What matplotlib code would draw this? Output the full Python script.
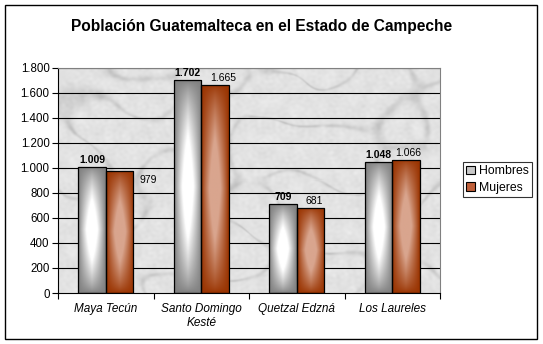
import numpy as np
import matplotlib
matplotlib.use("Agg")
import matplotlib.pyplot as plt
from matplotlib.patches import Rectangle, Patch
from matplotlib.ticker import FuncFormatter, FixedLocator

plt.rcParams['font.family'] = ['Liberation Sans', 'DejaVu Sans']

# data
categories = ["Maya Tecún", "Santo Domingo\nKesté", "Quetzal Edzná", "Los Laureles"]
hombres = [1009, 1702, 709, 1048]
mujeres = [979, 1665, 681, 1066]
series_names = ["Hombres", "Mujeres"]

# label offsets in pixels (Mujeres labels sit a little to the right in the original)
mujeres_label_offsets = [(29, -14), (8, 2), (4, 2), (2, 2)]


def thousands(v, pos=None):
    return f"{v:,.0f}".replace(",", ".")


def gradient_colors(edge, center, nx=40, ny=120):
    # "from center" shading: edge colour at the sides, light colour in the middle
    u = np.linspace(-1, 1, nx)
    v = np.linspace(-1, 1, ny)
    U, V = np.meshgrid(u, v)
    t = (1 - np.abs(U)) ** 0.9 * (1 - np.abs(V)) ** 0.7
    t = np.clip(t * 1.6, 0, 1)
    edge = np.array(matplotlib.colors.to_rgb(edge))
    center = np.array(matplotlib.colors.to_rgb(center))
    return edge + (center - edge) * t[..., None]


def wave_sum(X, Y, n, fmin, fmax, seed_phase):
    # fixed sum of sine waves in many directions (deterministic texture)
    w = np.zeros(X.shape)
    for k in range(1, n + 1):
        ang = k * 2.39996 + seed_phase
        f = fmin + (fmax - fmin) * ((k * 0.618034) % 1)
        w += np.sin(f * (np.cos(ang) * X + np.sin(ang) * Y) + k * 1.7 + seed_phase)
    return w / np.abs(w).max()


def marble(nx=382, ny=225):
    # light grey marble-like background
    X, Y = np.meshgrid(np.arange(nx), np.arange(ny))
    warp = 6 * wave_sum(X, Y, 12, 0.05, 0.15, 0.3)
    low = wave_sum(X + warp, Y - warp, 25, 0.03, 0.09, 1.1)
    veins = np.exp(-(low ** 2) / 0.004)
    mid = wave_sum(X, Y, 30, 0.15, 0.45, 2.3)
    fine = wave_sum(X, Y, 40, 0.6, 1.4, 0.7)
    g = 0.89 - 0.13 * veins * (0.6 + 0.4 * mid) - 0.03 * mid - 0.025 * fine
    g = np.clip(g, 0, 1)
    return np.dstack([g, g, g])


fig = plt.figure(figsize=(5.43, 3.44), dpi=100)
fig.patch.set_facecolor("white")
ax = fig.add_axes([58 / 543, 1 - 293 / 344, 382 / 543, 225 / 344])

# outer chart frame
fig.patches.append(Rectangle((5 / 543, 1 - 339 / 344), 532 / 543, 334 / 344,
                             transform=fig.transFigure, fill=False,
                             edgecolor="black", linewidth=1.0, zorder=0))

x = np.arange(len(categories))
width = 0.29

ax.imshow(marble(), extent=(-0.5, len(categories) - 0.5, 0, 1800),
          aspect="auto", zorder=0, interpolation="nearest")

for yv in range(200, 1801, 200):
    ax.axhline(yv, color="black", linewidth=0.8, zorder=1)

styles = [("#7f7f7f", "#ffffff"), ("#993300", "#d9a58e")]
offsets = [-width / 2, width / 2]
for vals, off, (edge, center) in zip([hombres, mujeres], offsets, styles):
    bars = ax.bar(x + off, vals, width, color=edge, edgecolor="none", zorder=2)
    grad = gradient_colors(edge, center)
    for b in bars:
        x0, w, h = b.get_x(), b.get_width(), b.get_height()
        im = ax.imshow(grad, extent=(x0, x0 + w, 0, h), aspect="auto",
                       zorder=2.5, interpolation="bilinear")
        im.set_clip_path(b)
    ax.bar(x + off, vals, width, fill=False, edgecolor="black", linewidth=0.9, zorder=3)

ax.set_xlim(-0.5, len(categories) - 0.5)
ax.set_ylim(0, 1800)

# value labels
for i, v in enumerate(hombres):
    ax.annotate(thousands(v), (x[i] - width / 2, v), xytext=(0, 2),
                textcoords="offset pixels", ha="center", va="bottom",
                fontsize=7.5, fontweight="bold", zorder=4)
for i, v in enumerate(mujeres):
    dx, dy = mujeres_label_offsets[i]
    ax.annotate(thousands(v), (x[i] + width / 2, v), xytext=(dx, dy),
                textcoords="offset pixels", ha="center", va="bottom",
                fontsize=7.5, zorder=4)

# axes styling
for s in ["top", "right"]:
    ax.spines[s].set_color("#808080")
    ax.spines[s].set_linewidth(0.8)
ax.spines["left"].set_linewidth(0.8)
ax.spines["bottom"].set_linewidth(0.8)

ax.yaxis.set_major_locator(FixedLocator(range(0, 1801, 200)))
ax.yaxis.set_major_formatter(FuncFormatter(thousands))
ax.tick_params(axis="y", length=4, width=0.8, labelsize=8.3, pad=2)

ax.set_xticks(x)
ax.set_xticklabels(categories, fontsize=8.5, fontstyle="italic")
ax.set_xticks(np.arange(len(categories) + 1) - 0.5, minor=True)
ax.tick_params(axis="x", which="major", length=0, pad=7)
ax.tick_params(axis="x", which="minor", length=4, width=0.8)

fig.text(262 / 543, 1 - 27 / 344, "Población Guatemalteca en el Estado de Campeche",
         ha="center", va="center", fontsize=11.2, fontweight="bold")

handles = [Patch(facecolor="#c8c8c8", edgecolor="black", linewidth=0.8),
           Patch(facecolor="#c0603a", edgecolor="black", linewidth=0.8)]
leg = fig.legend(handles, series_names, loc="center",
                 bbox_to_anchor=(497.5 / 543, 1 - 179.5 / 344),
                 fontsize=8.8, frameon=True, fancybox=False,
                 handlelength=0.7, handleheight=0.7, handletextpad=0.3,
                 borderpad=0.3, labelspacing=0.35, borderaxespad=0)
leg.get_frame().set_edgecolor("black")
leg.get_frame().set_linewidth(0.8)

fig.savefig("out.png", dpi=100)
